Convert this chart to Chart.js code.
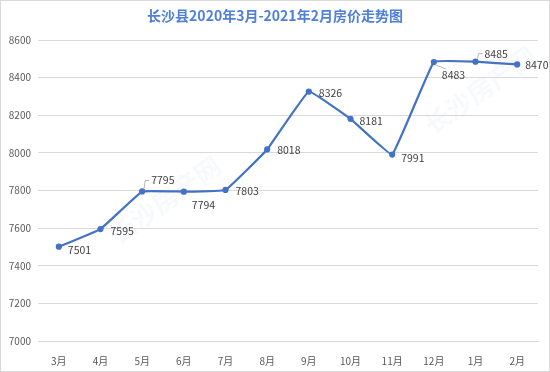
<!DOCTYPE html>
<html lang="zh">
<head>
<meta charset="UTF-8">
<title>长沙县房价走势图</title>
<script src="https://cdn.jsdelivr.net/npm/chart.js"></script>
<style>
    html, body { margin: 0; padding: 0; background: #fff; }
    canvas { display: block; }
</style>
</head>
<body>
<canvas id="priceChart" width="550" height="372"></canvas>
<script>
// Data
const months = ['3月', '4月', '5月', '6月', '7月', '8月', '9月', '10月', '11月', '12月', '1月', '2月'];
const prices = [7501, 7595, 7795, 7794, 7803, 8018, 8326, 8181, 7991, 8483, 8485, 8470];
const yTicks = [7000, 7200, 7400, 7600, 7800, 8000, 8200, 8400, 8600];

const titleText = '长沙县2020年3月-2021年2月房价走势图';
const fontFamily = '"Noto Sans CJK SC", "Open Sans", sans-serif';

// label offsets relative to each point (dx, dy), and whether a leader line is drawn
const labelOffsets = [
    [9, 3, false], [10, 2, false], [9, -11, true], [8, 13, false],
    [10, 1, false], [10, 1, false], [10, 1, false], [9, 2, false],
    [9, 3, false], [8, 13, true], [9, -8, true], [8, 1, false]
];

// draws title, watermark, border and data labels
const decorPlugin = {
    id: 'decor',
    beforeDraw(chart) {
        const ctx = chart.ctx;
        ctx.save();
        ctx.fillStyle = '#fff';
        ctx.fillRect(0, 0, chart.width, chart.height);
        // faint watermark
        ctx.fillStyle = 'rgba(68, 114, 196, 0.045)';
        ctx.font = 'bold 26px ' + fontFamily;
        ctx.textAlign = 'center';
        ctx.textBaseline = 'middle';
        [[165, 200], [480, 90]].forEach(([x, y]) => {
            ctx.save();
            ctx.translate(x, y);
            ctx.rotate(-0.62);
            ctx.fillText('长沙房产网', 0, 0);
            ctx.restore();
        });
        ctx.restore();
    },
    afterDraw(chart) {
        const ctx = chart.ctx;
        ctx.save();
        // title
        ctx.fillStyle = '#4f7fd9';
        ctx.font = 'bold 14px ' + fontFamily;
        ctx.textAlign = 'center';
        ctx.textBaseline = 'middle';
        ctx.fillText(titleText, 275, 16);

        // data labels
        const meta = chart.getDatasetMeta(0);
        ctx.font = '10.5px ' + fontFamily;
        ctx.textAlign = 'left';
        ctx.fillStyle = '#404040';
        meta.data.forEach((pt, i) => {
            const [dx, dy, leader] = labelOffsets[i];
            const tx = pt.x + dx;
            const ty = pt.y + dy;
            ctx.fillText(String(prices[i]), tx, ty);
            if (leader) {
                ctx.strokeStyle = '#a6a6a6';
                ctx.lineWidth = 0.8;
                ctx.beginPath();
                if (dy < 0) {
                    ctx.moveTo(pt.x + 2, pt.y - 3);
                    ctx.lineTo(pt.x + 3, ty);
                    ctx.lineTo(tx - 2, ty);
                } else {
                    ctx.moveTo(pt.x + 2, pt.y + 3);
                    ctx.lineTo(tx + 4, ty - 6);
                }
                ctx.stroke();
            }
        });

        // outer border
        ctx.strokeStyle = '#d9d9d9';
        ctx.lineWidth = 1;
        ctx.strokeRect(0.5, 0.5, chart.width - 1, chart.height - 1);
        ctx.restore();
    }
};

new Chart(document.getElementById('priceChart'), {
    type: 'line',
    data: {
        labels: months,
        datasets: [{
            data: prices,
            borderColor: '#4472c4',
            backgroundColor: '#4472c4',
            borderWidth: 2.25,
            pointRadius: 2,
            pointHoverRadius: 2,
            tension: 0.07,
            fill: false
        }]
    },
    options: {
        responsive: false,
        animation: false,
        devicePixelRatio: 1,
        layout: { padding: { left: 0, right: 12, top: 40, bottom: 0 } },
        plugins: {
            legend: { display: false },
            title: { display: false },
            tooltip: { enabled: false }
        },
        scales: {
            x: {
                offset: true,
                grid: { display: false },
                border: { display: true, color: '#d9d9d9' },
                ticks: {
                    color: '#595959',
                    font: { family: fontFamily, size: 10 },
                    padding: 6,
                    maxRotation: 0,
                    autoSkip: false
                },
                afterFit(scale) { scale.height = 31; }
            },
            y: {
                min: 7000,
                max: 8600,
                afterBuildTicks(scale) {
                    scale.ticks = yTicks.map(v => ({ value: v }));
                },
                grid: { color: '#d9d9d9', drawTicks: false },
                border: { display: false },
                ticks: {
                    color: '#595959',
                    font: { family: fontFamily, size: 10 },
                    padding: 7,
                    callback: v => String(v)
                },
                afterFit(scale) { scale.width = 38; }
            }
        }
    },
    plugins: [decorPlugin]
});
</script>
</body>
</html>
